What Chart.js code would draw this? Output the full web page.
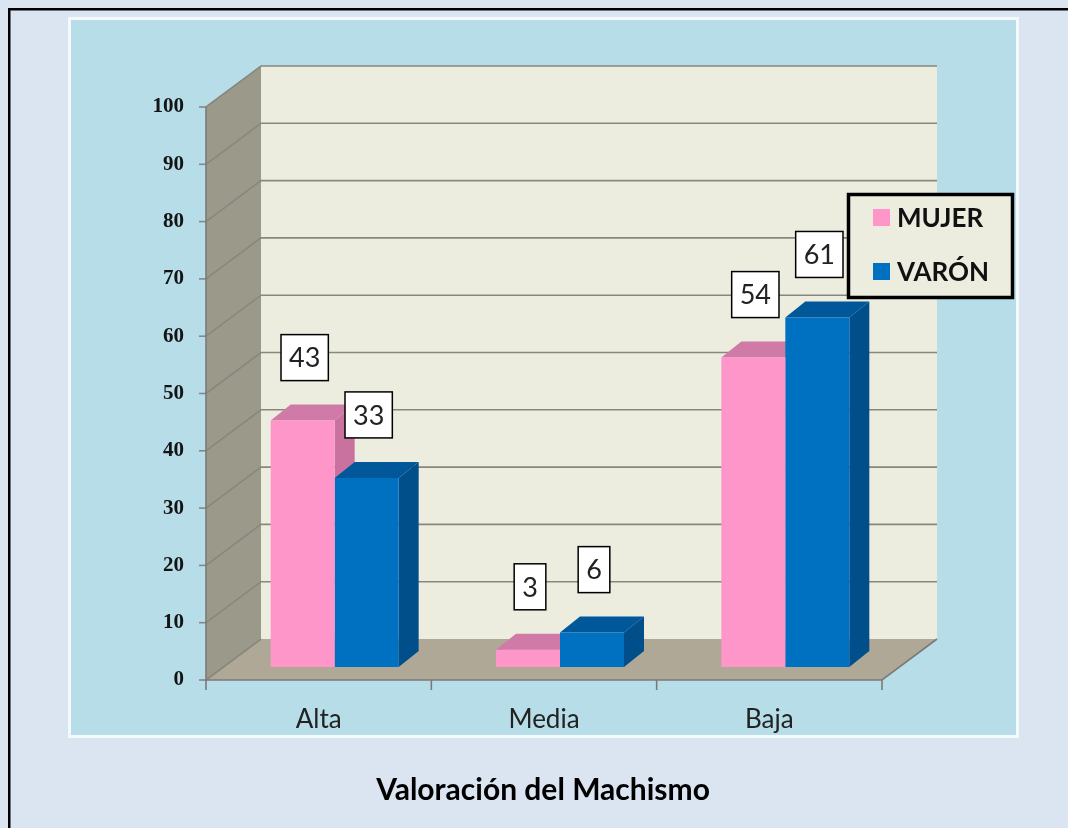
<!DOCTYPE html>
<html>
<head>
<meta charset="utf-8">
<script src="https://cdn.jsdelivr.net/npm/chart.js"></script>
<style>
  html, body { margin: 0; padding: 0; background: #dbe5f1; overflow: hidden; }
  #wrap { width: 1068px; height: 828px; overflow: hidden; }
  canvas { display: block; }
</style>
</head>
<body>
<div id="wrap"><canvas id="chart" width="1068" height="828"></canvas></div>
<script>
// data
const categories = ['Alta', 'Media', 'Baja'];
const mujer = [43, 3, 54];
const varon = [33, 6, 61];
const seriesNames = ['MUJER', 'VARÓN'];
const yTicks = [0, 10, 20, 30, 40, 50, 60, 70, 80, 90, 100];
const chartTitle = 'Valoración del Machismo';

// 3d look: offsets from the bar plane
const FRONT = { dx: -16, dy: 13 };
const BACK = { dx: 39, dy: -28 };
const DEPTH = { dx: 20, dy: -16 };

const colors = {
  front: ['#fe96ca', '#0070c0'],
  top: ['#d07aa8', '#00579a'],
  side: ['#c9729f', '#004e8a'],
  wall: '#ecedde',
  sideWall: '#9b9a8a',
  floor: '#b0a896',
  grid: '#878780'
};

function poly(ctx, pts, fill) {
  ctx.beginPath();
  ctx.moveTo(pts[0][0], pts[0][1]);
  for (let i = 1; i < pts.length; i++) ctx.lineTo(pts[i][0], pts[i][1]);
  ctx.closePath();
  ctx.fillStyle = fill;
  ctx.fill();
}

const frame3d = {
  id: 'frame3d',
  beforeDraw(chart) {
    const ctx = chart.ctx;
    ctx.save();
    ctx.fillStyle = '#dbe5f1';
    ctx.fillRect(0, 0, chart.width, chart.height);
    // outer frame: only top and left edges are in view
    ctx.fillStyle = '#000';
    ctx.fillRect(8, 8, chart.width - 8, 2.5);
    ctx.fillRect(8, 8, 2.5, chart.height - 8);
    ctx.fillStyle = '#f4f9fc';
    ctx.fillRect(68, 17, 951, 721);
    ctx.fillStyle = '#b7dde8';
    ctx.fillRect(71, 20, 945, 715);
    ctx.restore();
  },
  beforeDatasetsDraw(chart) {
    const ctx = chart.ctx;
    const x = chart.scales.x, y = chart.scales.y;
    const L = chart.chartArea.left, R = chart.chartArea.right;
    const y0 = y.getPixelForValue(0), y100 = y.getPixelForValue(100);
    ctx.save();

    // walls and floor
    poly(ctx, [[L + BACK.dx, y100 + BACK.dy], [R + BACK.dx, y100 + BACK.dy],
               [R + BACK.dx, y0 + BACK.dy], [L + BACK.dx, y0 + BACK.dy]], colors.wall);
    poly(ctx, [[L + FRONT.dx, y0 + FRONT.dy], [L + FRONT.dx, y100 + FRONT.dy],
               [L + BACK.dx, y100 + BACK.dy], [L + BACK.dx, y0 + BACK.dy]], colors.sideWall);
    poly(ctx, [[L + FRONT.dx, y0 + FRONT.dy], [R + FRONT.dx, y0 + FRONT.dy],
               [R + BACK.dx, y0 + BACK.dy], [L + BACK.dx, y0 + BACK.dy]], colors.floor);

    // grid lines
    ctx.strokeStyle = colors.grid;
    ctx.lineWidth = 1.6;
    yTicks.forEach(v => {
      const py = y.getPixelForValue(v);
      ctx.beginPath();
      ctx.moveTo(L + FRONT.dx, py + FRONT.dy);
      ctx.lineTo(L + BACK.dx, py + BACK.dy);
      if (v > 0) ctx.lineTo(R + BACK.dx, py + BACK.dy);
      ctx.stroke();
      // tick mark
      ctx.beginPath();
      ctx.moveTo(L + FRONT.dx - 7, py + FRONT.dy);
      ctx.lineTo(L + FRONT.dx, py + FRONT.dy);
      ctx.stroke();
    });

    // axis lines
    ctx.strokeStyle = '#7a7a7a';
    ctx.beginPath();
    ctx.moveTo(L + FRONT.dx, y100 + FRONT.dy);
    ctx.lineTo(L + FRONT.dx, y0 + FRONT.dy);
    ctx.lineTo(R + FRONT.dx, y0 + FRONT.dy);
    ctx.lineTo(R + BACK.dx, y0 + BACK.dy);
    ctx.stroke();

    // category ticks
    const band = (R - L) / categories.length;
    for (let i = 0; i <= categories.length; i++) {
      const px = L + band * i + FRONT.dx;
      ctx.beginPath();
      ctx.moveTo(px, y0 + FRONT.dy);
      ctx.lineTo(px, y0 + FRONT.dy + 10);
      ctx.stroke();
    }

    // y tick labels
    ctx.fillStyle = '#141414';
    ctx.font = 'bold 21px "Liberation Serif"';
    ctx.textAlign = 'right';
    ctx.textBaseline = 'middle';
    yTicks.forEach(v => {
      ctx.fillText(String(v), L + FRONT.dx - 22, y.getPixelForValue(v) + FRONT.dy);
    });

    // category labels
    ctx.fillStyle = '#222';
    ctx.font = '26px Lato';
    ctx.textAlign = 'center';
    categories.forEach((c, i) => {
      ctx.fillText(c, x.getPixelForValue(i) + FRONT.dx, y0 + FRONT.dy + 40);
    });

    // bar tops and sides (fronts are drawn by Chart.js on top)
    chart.data.datasets.forEach((ds, di) => {
      chart.getDatasetMeta(di).data.forEach(bar => {
        const p = bar.getProps(['x', 'y', 'base', 'width'], true);
        const l = p.x - p.width / 2, r = p.x + p.width / 2;
        poly(ctx, [[l, p.y], [r, p.y], [r + DEPTH.dx, p.y + DEPTH.dy], [l + DEPTH.dx, p.y + DEPTH.dy]], colors.top[di]);
        poly(ctx, [[r, p.y], [r + DEPTH.dx, p.y + DEPTH.dy], [r + DEPTH.dx, p.base + DEPTH.dy], [r, p.base]], colors.side[di]);
      });
    });
    ctx.restore();
  },
  afterDatasetsDraw(chart) {
    const ctx = chart.ctx;
    ctx.save();
    // data labels
    ctx.font = '27px Lato';
    ctx.textAlign = 'center';
    ctx.textBaseline = 'middle';
    chart.data.datasets.forEach((ds, di) => {
      chart.getDatasetMeta(di).data.forEach((bar, i) => {
        const p = bar.getProps(['x', 'y'], true);
        const txt = String(ds.data[i]);
        const w = ctx.measureText(txt).width + 16;
        const cx = p.x + 2, cy = p.y - 63;
        ctx.fillStyle = '#fff';
        ctx.fillRect(cx - w / 2, cy - 23, w, 46);
        ctx.strokeStyle = '#000';
        ctx.lineWidth = 1.5;
        ctx.strokeRect(cx - w / 2, cy - 23, w, 46);
        ctx.fillStyle = '#222';
        ctx.fillText(txt, cx, cy + 1);
      });
    });

    // legend
    ctx.fillStyle = colors.wall;
    ctx.fillRect(847, 193, 167, 106);
    ctx.strokeStyle = '#000';
    ctx.lineWidth = 3.5;
    ctx.strokeRect(848.5, 194.5, 164, 103);
    ctx.font = 'bold 26px Lato';
    ctx.textAlign = 'left';
    chart.data.datasets.forEach((ds, di) => {
      const cy = 218 + di * 54;
      ctx.fillStyle = ds.backgroundColor;
      ctx.fillRect(873, cy - 9, 17, 17);
      ctx.fillStyle = '#111';
      ctx.fillText(ds.label, 897, cy + 1);
    });

    // title
    ctx.font = 'bold 30px Lato';
    ctx.textAlign = 'center';
    ctx.fillStyle = '#000';
    ctx.fillText(chartTitle, 543, 790);
    ctx.restore();
  }
};

new Chart(document.getElementById('chart'), {
  type: 'bar',
  data: {
    labels: categories,
    datasets: [
      { label: seriesNames[0], data: mujer, backgroundColor: colors.front[0] },
      { label: seriesNames[1], data: varon, backgroundColor: colors.front[1] }
    ]
  },
  options: {
    responsive: false,
    animation: false,
    devicePixelRatio: 1,
    layout: { padding: { left: 222, right: 170, top: 94, bottom: 161 } },
    datasets: { bar: { barPercentage: 1, categoryPercentage: 0.568, borderWidth: 0 } },
    scales: {
      x: { display: false },
      y: { display: false, min: 0, max: 100 }
    },
    plugins: {
      legend: { display: false },
      title: { display: false },
      tooltip: { enabled: false }
    }
  },
  plugins: [frame3d]
});
</script>
</body>
</html>
